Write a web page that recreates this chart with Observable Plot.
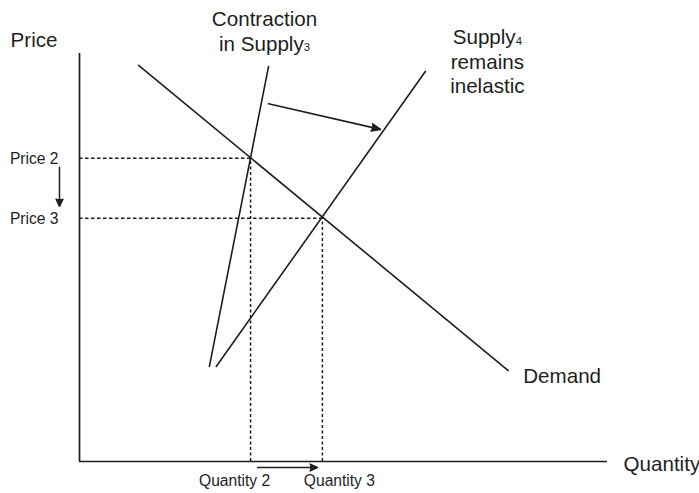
<!DOCTYPE html>
<html>
<head>
<meta charset="utf-8">
<script src="https://cdn.jsdelivr.net/npm/d3@7"></script>
<script src="https://cdn.jsdelivr.net/npm/@observablehq/plot@0.6"></script>
<style>
  html, body { margin: 0; padding: 0; background: #fff; }
  #chart svg { display: block; }
</style>
</head>
<body>
<div id="chart"></div>
<script>
// Data (quantity 0–100, price 0–100 in axis units)
const demand  = [{q: 11.2, p: 97.1}, {q: 81.2, p: 22.3}];
const supply3 = [{q: 24.6, p: 23.3}, {q: 35.8, p: 96.8}];
const supply4 = [{q: 25.9, p: 23.3}, {q: 65.5, p: 95.6}];
const prices = [{label: "Price 2", p: 74.3, q: 32.4}, {label: "Price 3", p: 59.6, q: 46.0}];
const quantities = [{label: "Quantity 2", q: 32.4, p: 74.3}, {label: "Quantity 3", q: 46.0, p: 59.6}];
const shift = [{q1: 35.8, p1: 87.7, q2: 57.0, p2: 81.4}];
const axisLabels = {x: "Quantity", y: "Price"};
const curveLabels = {demand: "Demand", supply3: "Contraction\nin Supply₃", supply4: "Supply₄\nremains\ninelastic"};

const ink = "#1e1e1e";
const font = "'Liberation Sans', Arial, sans-serif";
const big = 20.6, small = 15.6;

const chart = Plot.plot({
  width: 699,
  height: 493,
  marginLeft: 79,
  marginRight: 92,
  marginTop: 53,
  marginBottom: 32,
  style: {fontFamily: font, color: ink, background: "#fff"},
  x: {domain: [0, 100], axis: null},
  y: {domain: [0, 100], axis: null},
  marks: [
    // axes
    Plot.ruleX([0], {y1: 0, y2: 100, stroke: ink, strokeWidth: 1.7}),
    Plot.ruleY([0], {x1: 0, x2: 100, stroke: ink, strokeWidth: 1.7}),
    // dashed guides
    Plot.ruleY(prices, {y: "p", x1: 0, x2: "q", stroke: ink, strokeWidth: 1.5, strokeDasharray: "3.5,2.5"}),
    Plot.ruleX(quantities, {x: "q", y1: 0, y2: "p", stroke: ink, strokeWidth: 1.5, strokeDasharray: "3,2.5"}),
    // curves
    Plot.line(demand, {x: "q", y: "p", stroke: ink, strokeWidth: 1.6}),
    Plot.line(supply3, {x: "q", y: "p", stroke: ink, strokeWidth: 1.6}),
    Plot.line(supply4, {x: "q", y: "p", stroke: ink, strokeWidth: 1.6}),
    // shift arrow
    Plot.arrow(shift, {x1: "q1", y1: "p1", x2: "q2", y2: "p2", stroke: ink, fill: ink, strokeWidth: 1.6, headLength: 9, headAngle: 45}),
    // price change arrow
    Plot.arrow([prices], {x1: 0, x2: 0, y1: d => d[0].p, y2: d => d[1].p, dx: -20, insetStart: 9, insetEnd: 12, stroke: ink, fill: ink, strokeWidth: 1.5, headLength: 8, headAngle: 50}),
    // quantity change arrow
    Plot.arrow([quantities], {y1: 0, y2: 0, x1: d => d[0].q, x2: d => d[1].q, dy: 6, insetStart: 7, insetEnd: 5, stroke: ink, fill: ink, strokeWidth: 1.5, headLength: 8, headAngle: 50}),
    // tick labels
    Plot.text(prices, {x: 0, y: "p", text: "label", textAnchor: "end", dx: -21, dy: 1, fontSize: small, fill: ink}),
    Plot.text(quantities.slice(0, 1), {x: "q", y: 0, text: "label", lineAnchor: "bottom", dx: -16, dy: 24, fontSize: small, fill: ink}),
    Plot.text(quantities.slice(1), {x: "q", y: 0, text: "label", lineAnchor: "bottom", dx: 17, dy: 24, fontSize: small, fill: ink}),
    // axis labels
    Plot.text([axisLabels], {x: 0, y: 100, text: "y", textAnchor: "end", lineAnchor: "bottom", dx: -22, dy: -7, fontSize: big, fill: ink}),
    Plot.text([axisLabels], {x: 100, y: 0, text: "x", textAnchor: "start", lineAnchor: "bottom", dx: 16, dy: 9, fontSize: big, fill: ink}),
    // curve labels
    Plot.text(demand.slice(1), {x: "q", y: "p", text: () => curveLabels.demand, textAnchor: "start", lineAnchor: "bottom", dx: 15, dy: 12, fontSize: big, fill: ink}),
    Plot.text(supply3.slice(1), {x: "q", y: "p", text: () => curveLabels.supply3, lineAnchor: "bottom", lineHeight: 1.17, dx: -4, dy: -16, fontSize: big, fill: ink}),
    Plot.text(supply4.slice(1), {x: "q", y: "p", text: () => curveLabels.supply4, lineAnchor: "bottom", lineHeight: 1.17, dx: 62, dy: 21, fontSize: big, fill: ink})
  ]
});

// render subscript digits as small raised-baseline digits like the original
const subs = {"₃": "3", "₄": "4"};
chart.querySelectorAll("text, tspan").forEach(el => {
  if (el.children.length) return;
  const t = el.textContent;
  const m = t.match(/[₃₄]/);
  if (!m) return;
  el.textContent = t.slice(0, m.index);
  const s = document.createElementNS("http://www.w3.org/2000/svg", "tspan");
  s.setAttribute("font-size", "0.55em");
  s.setAttribute("dy", "0.05em");
  s.textContent = subs[m[0]];
  el.appendChild(s);
});

document.getElementById("chart").append(chart);
</script>
</body>
</html>
